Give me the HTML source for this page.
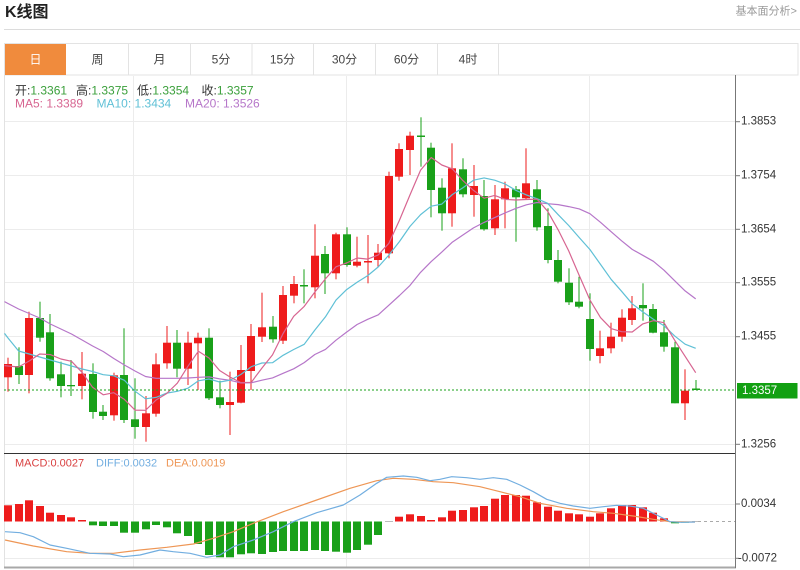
<!DOCTYPE html>
<html><head><meta charset="utf-8">
<style>
html,body{margin:0;padding:0;background:#fff;}
body{width:800px;height:570px;position:relative;overflow:hidden;}
svg{position:absolute;left:0;top:0;}
</style></head><body>
<svg id="s" width="800" height="570" xmlns="http://www.w3.org/2000/svg" font-family="'Liberation Sans','Noto Sans CJK SC',sans-serif">
<!-- header -->
<text x="5" y="12.5" font-size="16" font-weight="bold" fill="#222" dominant-baseline="central">K线图</text>
<text x="797" y="11.5" font-size="11" fill="#9a9a9a" text-anchor="end" dominant-baseline="central">基本面分析&gt;</text>
<line x1="4" y1="29.5" x2="800" y2="29.5" stroke="#dcdcdc"/>
<!-- tabs -->
<rect x="4.5" y="43.5" width="793.5" height="31.5" fill="#fff" stroke="#e3e3e3"/>
<rect x="5" y="44" width="61" height="31" fill="#f08b3d"/>
<g stroke="#e3e3e3">
<line x1="128.5" y1="44" x2="128.5" y2="75"/>
<line x1="190.5" y1="44" x2="190.5" y2="75"/>
<line x1="252" y1="44" x2="252" y2="75"/>
<line x1="313.5" y1="44" x2="313.5" y2="75"/>
<line x1="375.5" y1="44" x2="375.5" y2="75"/>
<line x1="437.5" y1="44" x2="437.5" y2="75"/>
<line x1="498.5" y1="44" x2="498.5" y2="75"/>
</g>
<g font-size="12" text-anchor="middle" dominant-baseline="central">
<text x="35.5" y="59.5" fill="#fff">日</text>
<text x="97.5" y="59.5" fill="#444">周</text>
<text x="159.5" y="59.5" fill="#444">月</text>
<text x="221" y="59.5" fill="#444">5分</text>
<text x="282.5" y="59.5" fill="#444">15分</text>
<text x="344.5" y="59.5" fill="#444">30分</text>
<text x="406.5" y="59.5" fill="#444">60分</text>
<text x="468" y="59.5" fill="#444">4时</text>
</g>
<!-- chart frame & grid -->
<line x1="4.5" y1="75" x2="4.5" y2="568" stroke="#e2e2e2"/>
<g stroke="#ececec">
<line x1="133.5" y1="76" x2="133.5" y2="567"/>
<line x1="346.5" y1="76" x2="346.5" y2="567"/>
<line x1="589.5" y1="76" x2="589.5" y2="567"/>
<line x1="5" y1="121.5" x2="736" y2="121.5"/>
<line x1="5" y1="175.5" x2="736" y2="175.5"/>
<line x1="5" y1="229.5" x2="736" y2="229.5"/>
<line x1="5" y1="282.5" x2="736" y2="282.5"/>
<line x1="5" y1="336.5" x2="736" y2="336.5"/>
<line x1="5" y1="444.5" x2="736" y2="444.5"/>
<line x1="5" y1="504.5" x2="736" y2="504.5"/>
<line x1="5" y1="558.5" x2="736" y2="558.5"/>
</g>
<line x1="4" y1="453.5" x2="736" y2="453.5" stroke="#333"/>
<line x1="4" y1="567.5" x2="736" y2="567.5" stroke="#a8a8a8" stroke-width="2"/>
<g id="plot"></g>
<line x1="4" y1="390" x2="736" y2="390" stroke="#19a019" stroke-dasharray="2,2"/>
<line x1="698" y1="521.5" x2="736" y2="521.5" stroke="#aaa" stroke-dasharray="3,3"/>
<!-- axis -->
<line x1="735.5" y1="75" x2="735.5" y2="568" stroke="#777"/>
<g stroke="#777">
<line x1="736" y1="121.7" x2="740" y2="121.7"/>
<line x1="736" y1="175.7" x2="740" y2="175.7"/>
<line x1="736" y1="229.3" x2="740" y2="229.3"/>
<line x1="736" y1="282.7" x2="740" y2="282.7"/>
<line x1="736" y1="336.7" x2="740" y2="336.7"/>
<line x1="736" y1="444.3" x2="740" y2="444.3"/>
<line x1="736" y1="504" x2="740" y2="504"/>
<line x1="736" y1="558.3" x2="739" y2="558.3"/>
</g>
<g font-size="11.5" fill="#333" dominant-baseline="central">
<text x="741" y="121.7">1.3853</text>
<text x="741" y="175.7">1.3754</text>
<text x="741" y="229.3">1.3654</text>
<text x="741" y="282.7">1.3555</text>
<text x="741" y="336.7">1.3455</text>
<text x="741" y="444.3">1.3256</text>
<text x="741" y="504">0.0034</text>
<text x="738" y="558.3">-0.0072</text>
</g>
<rect x="737" y="383" width="60.5" height="15.5" fill="#12a012"/>
<text x="742" y="390.8" font-size="11.5" fill="#fff" dominant-baseline="central">1.3357</text>
<!-- info -->
<g font-size="12" dominant-baseline="central">
<text x="15" y="90.5"><tspan fill="#333">开:</tspan><tspan fill="#3a9f3a">1.3361</tspan></text>
<text x="76" y="90.5"><tspan fill="#333">高:</tspan><tspan fill="#3a9f3a">1.3375</tspan></text>
<text x="137" y="90.5"><tspan fill="#333">低:</tspan><tspan fill="#3a9f3a">1.3354</tspan></text>
<text x="201.5" y="90.5"><tspan fill="#333">收:</tspan><tspan fill="#3a9f3a">1.3357</tspan></text>
<text x="15" y="103.5" fill="#d76591">MA5: 1.3389</text>
<text x="96.5" y="103.5" fill="#5fc0d6">MA10: 1.3434</text>
<text x="185" y="103.5" fill="#b676c9">MA20: 1.3526</text>
</g>
<g font-size="11" dominant-baseline="central">
<text x="15" y="463.5" fill="#d94040">MACD:0.0027</text>
<text x="96" y="463.5" fill="#72aee0">DIFF:0.0032</text>
<text x="166" y="463.5" fill="#ee9655">DEA:0.0019</text>
</g>
</svg>
<script>
(function(){
var D=[
[364,377.3,357.7,391.7,1],[366,375,347.3,384,0],[318,375,311.7,393.3,1],[318,337.7,301.7,341.7,0],
[332.3,378.3,314,380.7,0],[374.3,386,361.7,397.3,0],[385,386.3,360,396,0],[373.7,386,352,399.3,1],
[374,412,363.3,418.7,0],[411.7,416,405,420,0],[375.3,415.3,372.7,420.7,1],[375,420,328.3,423,0],
[419.3,427,378.3,438.7,0],[413.3,427,396,441.7,1],[364.3,413.7,353.3,416.7,1],[342.7,363.3,326,368.7,1],
[342.7,368.7,330,377.3,0],[342.7,368.7,331.7,385,1],[337.7,343.3,332.7,390,1],[337.7,398.3,328.3,400,0],
[397.3,405,380.7,408.3,0],[402,405,371.7,435,1],[370,402.7,345,403.3,1],[336,371,324,390,1],
[327.3,336.7,292.7,342,1],[326.7,339.3,316,342.7,0],[295,340.7,286,344,1],[284,295.7,276,303.3,1],
[285,286.5,269.3,303.3,0],[255.7,287.3,224.3,298.3,1],[254,273.3,246,294,0],[234.3,273.3,232.7,279.3,1],
[234.3,265,227.3,266.7,0],[261.7,265.7,236.7,267.3,1],[261,262.5,235,283.3,1],[252.7,260,244,266.7,1],
[176,253.3,171.7,258.3,1],[149,176.7,143.3,180.7,1],[135.7,150,131.7,175,1],[135.5,137,117.3,166.7,0],
[147.7,190,142.7,217.3,0],[187.7,213.3,178.3,230.7,0],[168.3,213.3,143.3,226.7,1],[169.3,194.3,158.3,197.3,0],
[186,195,165,216.7,1],[196,229.3,180,230.7,0],[199.3,228.3,185,235,1],[188.3,199.3,181.7,228.3,1],
[189.3,197.3,186,241.7,0],[183.3,198.3,148.3,199.3,1],[189.3,227.3,180,230.7,0],[226,260,208.3,263.3,0],
[260,281.7,250,283.3,0],[282.7,302.3,268.3,305,0],[301.7,306.7,276.7,308.3,0],[319,349,293.3,360.7,0],
[348.3,356,330.7,363.3,1],[336.7,348.3,322.7,353.3,1],[317.7,336.7,309.3,341.7,1],[308.3,320,296,325,1],
[305,308.3,283.3,320.7,0],[309,332.7,304,333.3,0],[332.3,346.7,320,351.7,0],[347.3,403.3,341.7,403.3,0],
[390.7,403.3,369.3,420,1],[388.5,390,380,390,0]];
var M=[505.3,504,500.3,506,512.7,515,517.3,520,
525.3,526,526,532.7,532.7,529.3,525,527.3,533.3,536,544,555,557.3,557.3,554.3,553.3,554,552,551,551,551,550,551,551.7,552.7,550,544.7,535,
521.5,516.7,514.3,516,520,517.3,510.7,510,507.3,506,498.7,495,495,495.7,502.3,506.7,510.7,513.3,514.3,516.7,513.3,508.3,505,505,507.3,512.7,518.3,523.3,522.7,521.5];
var DIFF=[[5,531.7],[20,532.7],[33.3,536.7],[50,545],[66.7,548.3],[90,553.3],[110,554],[123.3,556.7],[140,555],[160,550],[173.3,551.7],[190,553.3],[206.7,557.3],[220,555],[233.3,546.7],[253.3,540],[273.3,531.7],[293.3,521.7],[316.7,512.7],[343.3,505],[360,495],[376.7,483.3],[386.7,477.3],[403.3,476],[416.7,477.3],[430,480.7],[440,479.3],[451.7,476.7],[466.7,477.7],[480,479.3],[493.3,477.7],[506.7,479.3],[520,485],[533.3,491.7],[546.7,499.3],[560,503.3],[573.3,506],[590,508.3],[603.3,506.7],[616.7,505.3],[630,506],[643.3,508.3],[656.7,515],[670,521.7],[680,522.3],[695,522]];
var DEA=[[5,540],[33.3,546],[66.7,551.7],[90,553.3],[113.3,553.3],[140,550],[166.7,547.3],[193.3,544],[213.3,538.3],[233.3,531.7],[253.3,523.3],[283.3,511.7],[316.7,500],[350,488.3],[376.7,480.7],[393.3,478.3],[413.3,479.3],[433.3,481.7],[453.3,482.7],[480,486.7],[500,491.7],[520,496.7],[540,503.3],[566.7,508.3],[593.3,511.7],[613.3,513.3],[633.3,516],[653.3,519.3],[670,521.7],[695,522]];
var NS='http://www.w3.org/2000/svg',g=document.getElementById('plot');
function el(n,a){var e=document.createElementNS(NS,n);for(var k in a)e.setAttribute(k,a[k]);g.appendChild(e);return e;}
var R='#ee1c1c',G='#19a019';
function cx(i){return 8+i*10.58;}
var cl=D.map(function(d){return d[4]?d[0]:d[1];});
function ma(n,early){return cl.map(function(c,i){if(i<n-1)return early[i];var s=0;for(var j=i-n+1;j<=i;j++)s+=cl[j];return s/n;});}
var ma5=ma(5,[366,367,361,354]);
var ma10=ma(10,[338,351,354,357,360,363,366,369,371.5]);
var ma20=ma(20,[303.5,309,313.5,318,324,329,334,340,346,351.5,358.5,365,371,376.5,378.3,378.3,378.3,378,377.3]);
// MACD bars
var Z=521.5;
M.forEach(function(v,i){var x=Math.round(cx(i)-4);
 if(Math.abs(v-Z)<0.6){el('rect',{x:x,y:Z-0.5,width:8,height:1,fill:'#bbb'});return;}
 if(v<Z)el('rect',{x:x,y:v,width:8,height:Z-v,fill:R});else el('rect',{x:x,y:Z,width:8,height:v-Z,fill:G});});
// candles
D.forEach(function(d,i){var x=Math.round(cx(i)-4),c=d[4]?R:G;
 el('rect',{x:x+3.5,y:d[2],width:1,height:d[3]-d[2],fill:c});
 var h=Math.max(1.2,d[1]-d[0]);
 el('rect',{x:x,y:d[0],width:8,height:h,fill:c});});
function pl(pts,col,w){el('polyline',{points:pts.map(function(p){return p[0].toFixed(1)+','+p[1].toFixed(1);}).join(' '),fill:'none',stroke:col,'stroke-width':w||1.2,'stroke-linejoin':'round'});}
function mp(a){var p=[[4.5,a[0]-(a[1]-a[0])*0.35]];a.forEach(function(v,i){p.push([cx(i),v]);});return p;}
pl(mp(ma20),'#b676c9');
pl(mp(ma10),'#5fc0d6');
pl(mp(ma5),'#d76591');
pl(DEA,'#ee9655');
pl(DIFF,'#72aee0');
})();
</script>
</body></html>
